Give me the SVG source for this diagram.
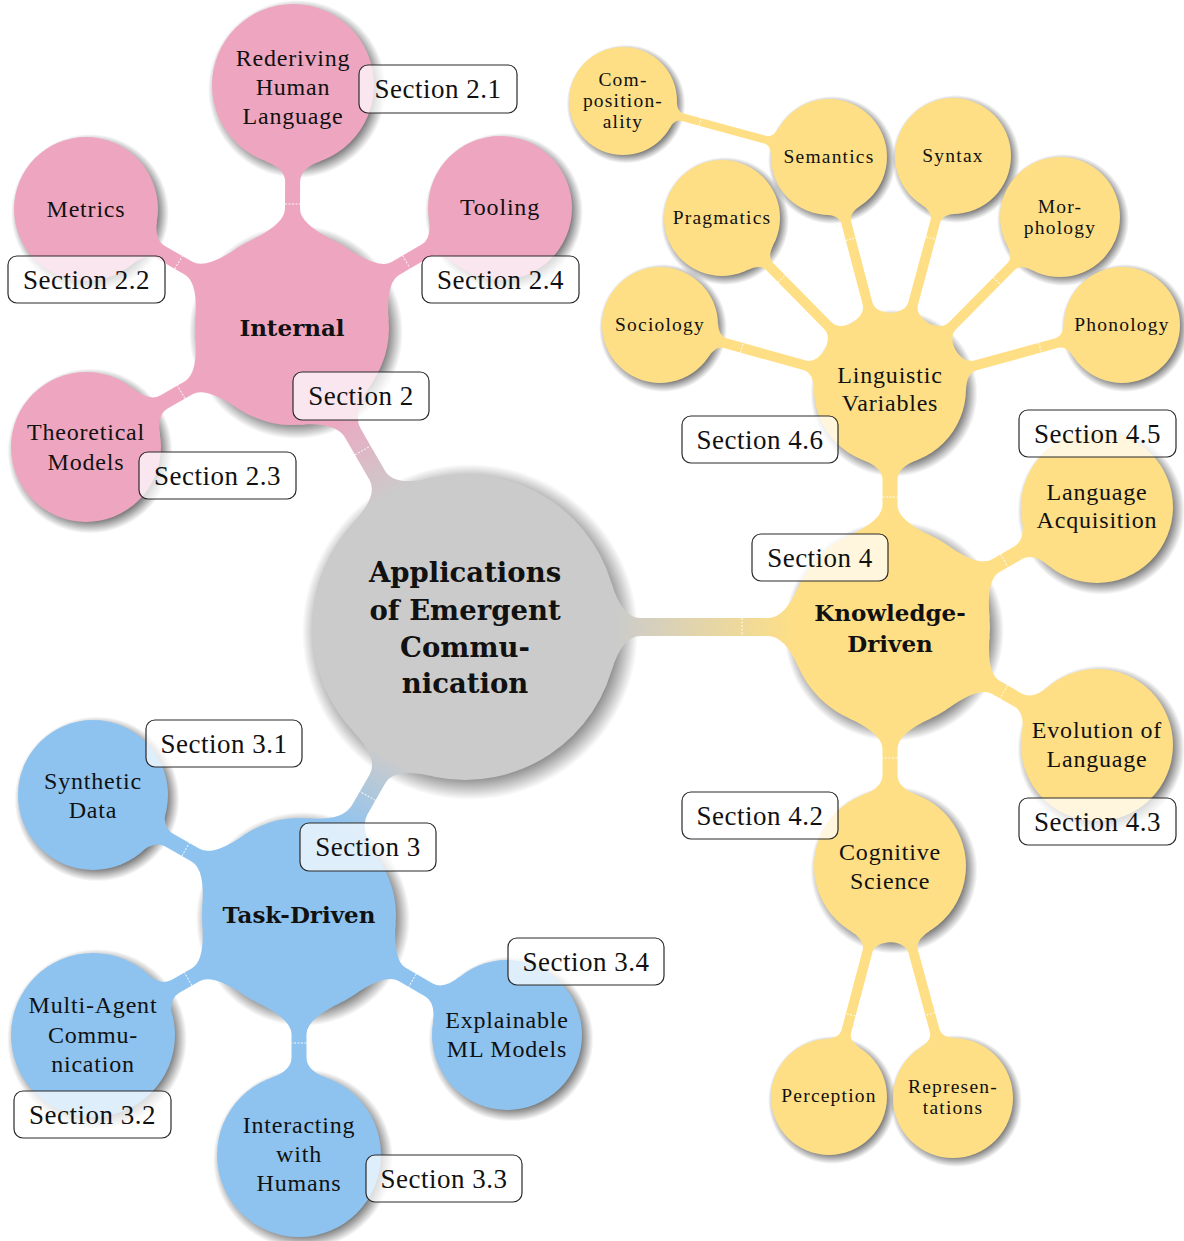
<svg xmlns="http://www.w3.org/2000/svg" width="1184" height="1241" viewBox="0 0 1184 1241">
<style>
.gy{fill:#CBCBCB}.pk{fill:#EEA6C0}.bl{fill:#8EC3F0}.yl{fill:#FEDF86}
.sh{fill:url(#shd)}
.tick{stroke:#fff;stroke-width:1;stroke-dasharray:2 1.5;opacity:.9}
text{font-family:"Liberation Serif","Times New Roman",serif;fill:#111;text-anchor:middle}
.t2{font-size:24px;letter-spacing:.8px}
.t3{font-size:19.5px;letter-spacing:1.2px}
.tb{font-family:"DejaVu Serif",serif;font-weight:bold;font-size:23px}
.tc{font-family:"DejaVu Serif",serif;font-weight:bold;font-size:27.5px}
.lbl rect{fill:#fff;fill-opacity:.72;stroke:#2a2a2a;stroke-width:1.2}
.lbl text{font-size:27px;letter-spacing:.5px}
</style>
<defs>
<radialGradient id="shd">
<stop offset="0" stop-color="#000" stop-opacity=".5"/>
<stop offset=".85" stop-color="#000" stop-opacity=".5"/>
<stop offset="1" stop-color="#000" stop-opacity="0"/>
</radialGradient>
<linearGradient id="gK" gradientUnits="userSpaceOnUse" x1="150" y1="0" x2="330" y2="0"><stop offset="0" stop-color="#CBCBCB"/><stop offset="1" stop-color="#FEDF86"/></linearGradient>
<linearGradient id="gI" gradientUnits="userSpaceOnUse" x1="150" y1="0" x2="250" y2="0"><stop offset="0" stop-color="#CBCBCB"/><stop offset="1" stop-color="#EEA6C0"/></linearGradient>
<linearGradient id="gT" gradientUnits="userSpaceOnUse" x1="150" y1="0" x2="237" y2="0"><stop offset="0" stop-color="#CBCBCB"/><stop offset="1" stop-color="#8EC3F0"/></linearGradient>
</defs>

<g id="shadows">
<circle class="sh" cx="470" cy="632" r="168"/>
<circle class="sh" cx="296" cy="332" r="107"/>
<circle class="sh" cx="297" cy="89" r="89"/>
<circle class="sh" cx="90" cy="213" r="79"/>
<circle class="sh" cx="504" cy="212" r="79"/>
<circle class="sh" cx="90" cy="451" r="82.5"/>
<circle class="sh" cx="303" cy="919" r="107"/>
<circle class="sh" cx="97" cy="799" r="82.5"/>
<circle class="sh" cx="97" cy="1039" r="90"/>
<circle class="sh" cx="303" cy="1159" r="90"/>
<circle class="sh" cx="511" cy="1039" r="82.5"/>
<circle class="sh" cx="894" cy="631" r="110"/>
<circle class="sh" cx="894" cy="393" r="83.6"/>
<circle class="sh" cx="1101" cy="511" r="83.6"/>
<circle class="sh" cx="1101" cy="749" r="83.6"/>
<circle class="sh" cx="894" cy="870" r="83.6"/>
<circle class="sh" cx="832" cy="1100" r="64"/>
<circle class="sh" cx="956" cy="1101" r="66"/>
<circle class="sh" cx="663" cy="328" r="64"/>
<circle class="sh" cx="725" cy="221" r="64"/>
<circle class="sh" cx="832" cy="160" r="64"/>
<circle class="sh" cx="956" cy="159" r="64"/>
<circle class="sh" cx="1063" cy="220" r="66"/>
<circle class="sh" cx="1125" cy="328" r="64"/>
<circle class="sh" cx="626" cy="104" r="59.4"/>
</g>

<g id="connectors">
<g transform="translate(465,627) rotate(0)"><path fill="url(#gK)" d="M146.5,-44Q157.1,-9 175.3,-9L302.9,-9Q319.8,-9 333.3,-40L333.3,40Q319.8,9 302.9,9L175.3,9Q157.1,9 146.5,44Z"/><line class="tick" x1="277" y1="-9" x2="277" y2="9"/></g>
<g transform="translate(465,627) rotate(-120.05)"><path fill="url(#gI)" d="M146.5,-44Q157.1,-9 175.3,-9L223.8,-9Q242.1,-9 258,-42L258,42Q242.1,9 223.8,9L175.3,9Q157.1,9 146.5,44Z"/><line class="tick" x1="204" y1="-9" x2="204" y2="9"/></g>
<g transform="translate(465,627) rotate(119.96)"><path fill="url(#gT)" d="M146.5,-44Q157.1,-9 175.3,-9L210.8,-9Q229.1,-9 245,-42L245,42Q229.1,9 210.8,9L175.3,9Q157.1,9 146.5,44Z"/><line class="tick" x1="195" y1="-9" x2="195" y2="9"/></g>

<g transform="translate(292,328) rotate(-89.76)"><path class="pk" d="M87.4,-42Q104,-7.5 119.3,-7.5L146.3,-7.5Q159.4,-7.5 167,-28L167,28Q159.4,7.5 146.3,7.5L119.3,7.5Q104,7.5 87.4,42Z"/><line class="tick" x1="124" y1="-7.5" x2="124" y2="7.5"/></g>
<g transform="translate(292,328) rotate(-149.99)"><path class="pk" d="M87.4,-42Q104,-7.5 119.3,-7.5L151.7,-7.5Q163.6,-7.5 170.8,-26L170.8,26Q163.6,7.5 151.7,7.5L119.3,7.5Q104,7.5 87.4,42Z"/><line class="tick" x1="131" y1="-7.5" x2="131" y2="7.5"/></g>
<g transform="translate(292,328) rotate(-29.98)"><path class="pk" d="M87.4,-42Q104,-7.5 119.3,-7.5L153.9,-7.5Q165.8,-7.5 173,-26L173,26Q165.8,7.5 153.9,7.5L119.3,7.5Q104,7.5 87.4,42Z"/><line class="tick" x1="132" y1="-7.5" x2="132" y2="7.5"/></g>
<g transform="translate(292,328) rotate(149.99)"><path class="pk" d="M87.4,-42Q104,-7.5 119.3,-7.5L147.9,-7.5Q160.4,-7.5 167.9,-27L167.9,27Q160.4,7.5 147.9,7.5L119.3,7.5Q104,7.5 87.4,42Z"/><line class="tick" x1="128" y1="-7.5" x2="128" y2="7.5"/></g>

<g transform="translate(299,915) rotate(-149.98)"><path class="bl" d="M87.4,-42Q104,-7.5 119.3,-7.5L150.1,-7.5Q162.6,-7.5 170.1,-27L170.1,27Q162.6,7.5 150.1,7.5L119.3,7.5Q104,7.5 87.4,42Z"/><line class="tick" x1="131" y1="-7.5" x2="131" y2="7.5"/></g>
<g transform="translate(299,915) rotate(149.98)"><path class="bl" d="M87.4,-42Q104,-7.5 119.3,-7.5L142.5,-7.5Q155.6,-7.5 163,-28L163,28Q155.6,7.5 142.5,7.5L119.3,7.5Q104,7.5 87.4,42Z"/><line class="tick" x1="128" y1="-7.5" x2="128" y2="7.5"/></g>
<g transform="translate(299,915) rotate(90)"><path class="bl" d="M87.4,-42Q104,-7.5 119.3,-7.5L142.4,-7.5Q155.5,-7.5 162.9,-28L162.9,28Q155.5,7.5 142.4,7.5L119.3,7.5Q104,7.5 87.4,42Z"/><line class="tick" x1="128" y1="-7.5" x2="128" y2="7.5"/></g>
<g transform="translate(299,915) rotate(29.98)"><path class="bl" d="M87.4,-42Q104,-7.5 119.3,-7.5L150.1,-7.5Q162.6,-7.5 170.1,-27L170.1,27Q162.6,7.5 150.1,7.5L119.3,7.5Q104,7.5 87.4,42Z"/><line class="tick" x1="131" y1="-7.5" x2="131" y2="7.5"/></g>

<g transform="translate(890,627) rotate(-90)"><path class="yl" d="M90.8,-42Q106.7,-7.5 121.9,-7.5L147,-7.5Q159.6,-7.5 167,-27L167,27Q159.6,7.5 147,7.5L121.9,7.5Q106.7,7.5 90.8,42Z"/><line class="tick" x1="130" y1="-7.5" x2="130" y2="7.5"/></g>
<g transform="translate(890,627) rotate(-30.1)"><path class="yl" d="M90.8,-42Q106.7,-7.5 121.9,-7.5L148.3,-7.5Q160.9,-7.5 168.3,-27L168.3,27Q160.9,7.5 148.3,7.5L121.9,7.5Q106.7,7.5 90.8,42Z"/><line class="tick" x1="132" y1="-7.5" x2="132" y2="7.5"/></g>
<g transform="translate(890,627) rotate(29.68)"><path class="yl" d="M90.8,-42Q106.7,-7.5 121.9,-7.5L147.3,-7.5Q159.9,-7.5 167.3,-27L167.3,27Q159.9,7.5 147.3,7.5L121.9,7.5Q106.7,7.5 90.8,42Z"/><line class="tick" x1="131" y1="-7.5" x2="131" y2="7.5"/></g>
<g transform="translate(890,627) rotate(90)"><path class="yl" d="M90.8,-42Q106.7,-7.5 121.9,-7.5L148,-7.5Q160.6,-7.5 168,-27L168,27Q160.6,7.5 148,7.5L121.9,7.5Q106.7,7.5 90.8,42Z"/><line class="tick" x1="131" y1="-7.5" x2="131" y2="7.5"/></g>

<g transform="translate(890,389) rotate(-164.45)"><path class="yl" d="M72.8,-22Q77.9,-5 88.6,-5L171.1,-5Q179.3,-5 183.6,-18L183.6,18Q179.3,5 171.1,5L88.6,5Q77.9,5 72.8,22Z"/><line class="tick" x1="153.7" y1="-5" x2="153.7" y2="5"/></g>
<g transform="translate(890,389) rotate(-134.5)"><path class="yl" d="M72.8,-22Q77.9,-5 88.6,-5L172.1,-5Q180.3,-5 184.6,-18L184.6,18Q180.3,5 172.1,5L88.6,5Q77.9,5 72.8,22Z"/><line class="tick" x1="154.7" y1="-5" x2="154.7" y2="5"/></g>
<g transform="translate(890,389) rotate(-104.73)"><path class="yl" d="M72.8,-22Q77.9,-5 88.6,-5L172.3,-5Q180.5,-5 184.8,-18L184.8,18Q180.5,5 172.3,5L88.6,5Q77.9,5 72.8,22Z"/><line class="tick" x1="154.9" y1="-5" x2="154.9" y2="5"/></g>
<g transform="translate(890,389) rotate(-74.87)"><path class="yl" d="M72.8,-22Q77.9,-5 88.6,-5L173.8,-5Q182,-5 186.3,-18L186.3,18Q182,5 173.8,5L88.6,5Q77.9,5 72.8,22Z"/><line class="tick" x1="156.4" y1="-5" x2="156.4" y2="5"/></g>
<g transform="translate(890,389) rotate(-45.33)"><path class="yl" d="M72.8,-22Q77.9,-5 88.6,-5L172.3,-5Q180.5,-5 184.6,-18L184.6,18Q180.5,5 172.3,5L88.6,5Q77.9,5 72.8,22Z"/><line class="tick" x1="152" y1="-5" x2="152" y2="5"/></g>
<g transform="translate(890,389) rotate(-15.42)"><path class="yl" d="M72.8,-22Q77.9,-5 88.6,-5L173.1,-5Q181.3,-5 185.6,-18L185.6,18Q181.3,5 173.1,5L88.6,5Q77.9,5 72.8,22Z"/><line class="tick" x1="155.7" y1="-5" x2="155.7" y2="5"/></g>

<g transform="translate(829,157) rotate(-164.79)"><path class="yl" d="M56,-15Q59,-4 65.8,-4L152.5,-4Q158.7,-4 161.4,-14L161.4,14Q158.7,4 152.5,4L65.8,4Q59,4 56,15Z"/><line class="tick" x1="133.5" y1="-4" x2="133.5" y2="4"/></g>

<g transform="translate(890,866) rotate(104.79)"><path class="yl" d="M72.8,-22Q77.9,-5 88.6,-5L171.3,-5Q179.5,-5 183.8,-18L183.8,18Q179.5,5 171.3,5L88.6,5Q77.9,5 72.8,22Z"/><line class="tick" x1="153.9" y1="-5" x2="153.9" y2="5"/></g>
<g transform="translate(890,866) rotate(74.81)"><path class="yl" d="M72.8,-22Q77.9,-5 88.6,-5L170.9,-5Q179.1,-5 183.2,-18L183.2,18Q179.1,5 170.9,5L88.6,5Q77.9,5 72.8,22Z"/><line class="tick" x1="153.4" y1="-5" x2="153.4" y2="5"/></g>
</g>

<g id="center"><circle class="gy" cx="465" cy="627" r="153"/>
<text class="tc" x="465" y="582">Applications</text><text class="tc" x="465" y="620">of Emergent</text><text class="tc" x="465" y="657">Commu-</text><text class="tc" x="465" y="693">nication</text></g>

<g id="internal"><circle class="pk" cx="292" cy="328" r="97"/><text class="tb" x="292" y="336">Internal</text></g>
<g id="rederiving"><circle class="pk" cx="293" cy="85" r="81"/><text class="t2" x="293" y="66">Rederiving</text><text class="t2" x="293" y="95">Human</text><text class="t2" x="293" y="124">Language</text></g>
<g id="metrics"><circle class="pk" cx="86" cy="209" r="72"/><text class="t2" x="86" y="217">Metrics</text></g>
<g id="tooling"><circle class="pk" cx="500" cy="208" r="72"/><text class="t2" x="500" y="215">Tooling</text></g>
<g id="theoretical"><circle class="pk" cx="86" cy="447" r="75"/><text class="t2" x="86" y="440">Theoretical</text><text class="t2" x="86" y="470">Models</text></g>

<g id="task"><circle class="bl" cx="299" cy="915" r="97"/><text class="tb" x="299" y="923">Task-Driven</text></g>
<g id="synthetic"><circle class="bl" cx="93" cy="795" r="75"/><text class="t2" x="93" y="789">Synthetic</text><text class="t2" x="93" y="818">Data</text></g>
<g id="multiagent"><circle class="bl" cx="93" cy="1035" r="82"/><text class="t2" x="93" y="1013">Multi-Agent</text><text class="t2" x="93" y="1043">Commu-</text><text class="t2" x="93" y="1072">nication</text></g>
<g id="interacting"><circle class="bl" cx="299" cy="1155" r="82"/><text class="t2" x="299" y="1133">Interacting</text><text class="t2" x="299" y="1162">with</text><text class="t2" x="299" y="1191">Humans</text></g>
<g id="explainable"><circle class="bl" cx="507" cy="1035" r="75"/><text class="t2" x="507" y="1028">Explainable</text><text class="t2" x="507" y="1057">ML Models</text></g>

<g id="knowledge"><circle class="yl" cx="890" cy="627" r="100"/><text class="tb" x="890" y="621">Knowledge-</text><text class="tb" x="890" y="652">Driven</text></g>
<g id="linguistic"><circle class="yl" cx="890" cy="389" r="76"/><text class="t2" x="890" y="383">Linguistic</text><text class="t2" x="890" y="411">Variables</text></g>
<g id="acquisition"><circle class="yl" cx="1097" cy="507" r="76"/><text class="t2" x="1097" y="500">Language</text><text class="t2" x="1097" y="528">Acquisition</text></g>
<g id="evolution"><circle class="yl" cx="1097" cy="745" r="76"/><text class="t2" x="1097" y="738">Evolution of</text><text class="t2" x="1097" y="767">Language</text></g>
<g id="cognitive"><circle class="yl" cx="890" cy="866" r="76"/><text class="t2" x="890" y="860">Cognitive</text><text class="t2" x="890" y="889">Science</text></g>
<g id="perception"><circle class="yl" cx="829" cy="1097" r="58"/><text class="t3" x="829" y="1102">Perception</text></g>
<g id="representations"><circle class="yl" cx="953" cy="1098" r="60"/><text class="t3" x="953" y="1093">Represen-</text><text class="t3" x="953" y="1114">tations</text></g>
<g id="sociology"><circle class="yl" cx="660" cy="325" r="58"/><text class="t3" x="660" y="331">Sociology</text></g>
<g id="pragmatics"><circle class="yl" cx="722" cy="218" r="58"/><text class="t3" x="722" y="224">Pragmatics</text></g>
<g id="semantics"><circle class="yl" cx="829" cy="157" r="58"/><text class="t3" x="829" y="163">Semantics</text></g>
<g id="syntax"><circle class="yl" cx="953" cy="156" r="58"/><text class="t3" x="953" y="162">Syntax</text></g>
<g id="morphology"><circle class="yl" cx="1060" cy="217" r="60"/><text class="t3" x="1060" y="213">Mor-</text><text class="t3" x="1060" y="234">phology</text></g>
<g id="phonology"><circle class="yl" cx="1122" cy="325" r="58"/><text class="t3" x="1122" y="331">Phonology</text></g>
<g id="compositionality"><circle class="yl" cx="623" cy="101" r="54"/><text class="t3" x="623" y="86">Com-</text><text class="t3" x="623" y="107">position-</text><text class="t3" x="623" y="128">ality</text></g>

<g id="labels" class="lbl">
<g id="l21"><rect x="359" y="65" width="158" height="48" rx="9"/><text x="438" y="98">Section 2.1</text></g>
<g id="l22"><rect x="8" y="256" width="157" height="47" rx="9"/><text x="86.5" y="289">Section 2.2</text></g>
<g id="l24"><rect x="422" y="256" width="157" height="47" rx="9"/><text x="500.5" y="289">Section 2.4</text></g>
<g id="l2"><rect x="293" y="372" width="136" height="48" rx="9"/><text x="361" y="405">Section 2</text></g>
<g id="l23"><rect x="139" y="452" width="157" height="47" rx="9"/><text x="217.5" y="485">Section 2.3</text></g>
<g id="l46"><rect x="682" y="416" width="156" height="47" rx="9"/><text x="760" y="449">Section 4.6</text></g>
<g id="l45"><rect x="1019" y="410" width="157" height="47" rx="9"/><text x="1097.5" y="443">Section 4.5</text></g>
<g id="l4"><rect x="752" y="534" width="136" height="47" rx="9"/><text x="820" y="567">Section 4</text></g>
<g id="l42"><rect x="682" y="792" width="156" height="47" rx="9"/><text x="760" y="825">Section 4.2</text></g>
<g id="l43"><rect x="1019" y="798" width="157" height="47" rx="9"/><text x="1097.5" y="831">Section 4.3</text></g>
<g id="l31"><rect x="146" y="720" width="156" height="47" rx="9"/><text x="224" y="753">Section 3.1</text></g>
<g id="l3"><rect x="300" y="823" width="136" height="48" rx="9"/><text x="368" y="856">Section 3</text></g>
<g id="l34"><rect x="508" y="938" width="156" height="47" rx="9"/><text x="586" y="971">Section 3.4</text></g>
<g id="l32"><rect x="14" y="1091" width="157" height="47" rx="9"/><text x="92.5" y="1124">Section 3.2</text></g>
<g id="l33"><rect x="366" y="1155" width="156" height="47" rx="9"/><text x="444" y="1188">Section 3.3</text></g>
</g>
</svg>
